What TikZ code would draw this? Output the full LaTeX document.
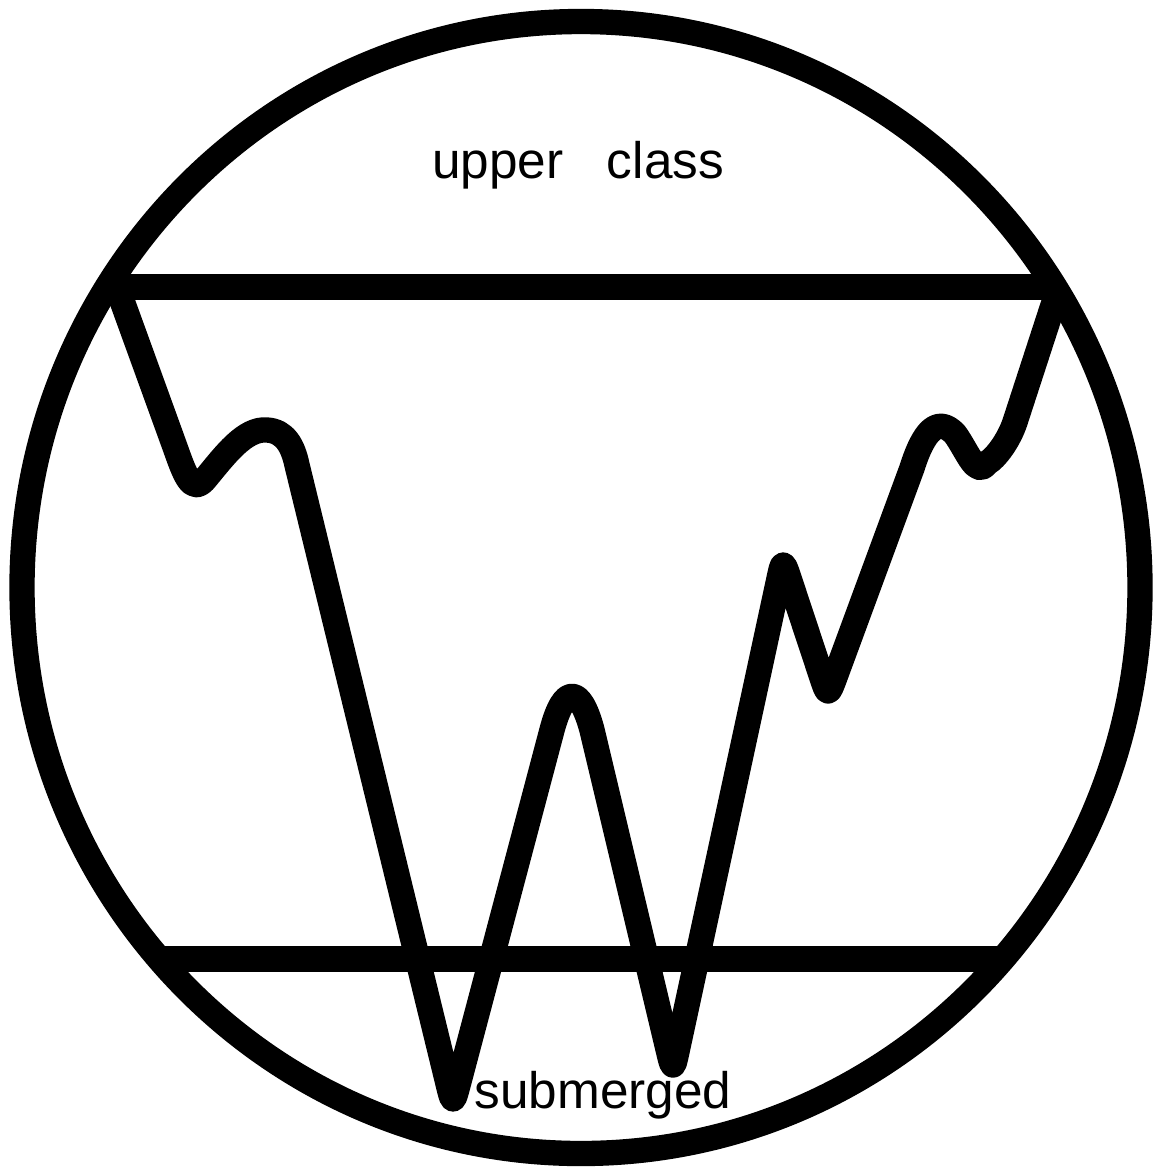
\documentclass[tikz,border=0pt]{standalone}
\usepackage{fontspec}
\setmainfont{Liberation Sans}

\begin{document}
\begin{tikzpicture}[x=0.01cm, y=-0.01cm, line width=7.2pt,
  label text/.style={font=\fontsize{14.6}{17}\selectfont, inner sep=0pt, anchor=base}]
  \useasboundingbox (0,0) rectangle (1153,1169);

  \draw (581,587.5) ellipse [x radius=559, y radius=566];

  \coordinate (topL) at (107,287);
  \coordinate (topR) at (1055,287);
  \coordinate (botL) at (159,959);
  \coordinate (botR) at (1003,959);
  \draw (topL) -- (topR);
  \draw (botL) -- (botR);

  % the wavy border
  \draw[line join=round, line cap=round]
    (117,287) -- (175,447)
    .. controls (185,475) and (192,496) .. (206,478)
    .. controls (225,455) and (245,428) .. (267,430)
    .. controls (285,431) and (293,446) .. (297,465)
    -- (448.1,1084) .. controls (453,1104) .. (458.3,1084)
    -- (552,730)
    .. controls (564,685) and (580,685) .. (592,730)
    -- (668.2,1050) .. controls (673,1070) .. (677.3,1050)
    -- (778.7,580) .. controls (783,560) .. (789.6,580)
    -- (821.4,676) .. controls (828,696) .. (835.4,676)
    -- (912,468)
    .. controls (924,430) and (938,416) .. (955,434)
    .. controls (968,452) and (976,478) .. (987,463)
    .. controls (996,458) and (1009,440) .. (1015,422)
    -- (1057,293);

  \node[label text] (upper) at (578,178) {upper\hspace{0.85em}class};
  \node[label text] (sub) at (603,1108) {submerged};
\end{tikzpicture}
\end{document}
